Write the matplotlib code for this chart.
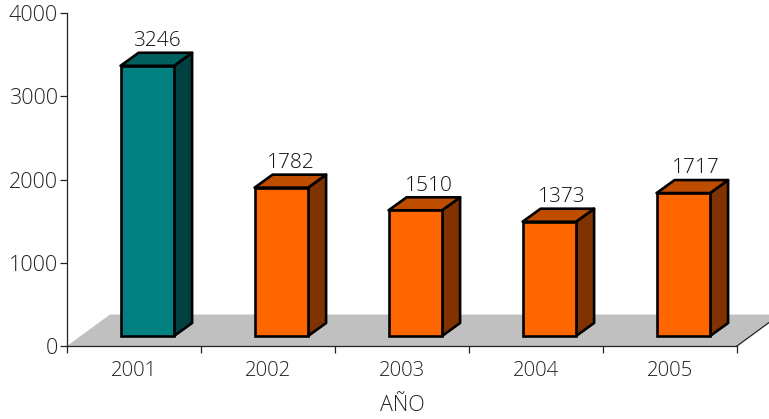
import matplotlib
matplotlib.use("Agg")
import matplotlib.pyplot as plt
from matplotlib.patches import Polygon, Rectangle

years = ["2001", "2002", "2003", "2004", "2005"]
values = [3246, 1782, 1510, 1373, 1717]
yticks = [0, 1000, 2000, 3000, 4000]
front = ["#008080", "#FF6600", "#FF6600", "#FF6600", "#FF6600"]
top = ["#006060", "#BF4D00", "#BF4D00", "#BF4D00", "#BF4D00"]
side = ["#004040", "#803300", "#803300", "#803300", "#803300"]
label_dx = [0.17, 0.17, 0.20, 0.19, 0.19]

plt.rcParams["font.family"] = "Open Sans"
plt.rcParams["font.weight"] = "light"
W, H = 769, 419
fig = plt.figure(figsize=(W / 100, H / 100), dpi=100, facecolor="white")
ax = fig.add_axes([67 / W, 1 - 346 / H, 670 / W, 333 / H])
ax.set_xlim(-0.5, 4.5)
ax.set_ylim(0, 4000)
ax.patch.set_visible(False)

# projection offsets in data units
DX = 18 / 134
DY = 13 / (333 / 4000)
BX0, BW = -0.1, 53.5 / 134
BASE = 10 / (333 / 4000)

# floor
fx = 43 / 134
fy = 31.5 / (333 / 4000)
ax.add_patch(Polygon([(-0.5, 0), (4.5, 0), (4.5 + fx, fy), (-0.5 + fx + 0.0, fy)],
                     closed=True, fc="#C0C0C0", ec="none", clip_on=False, zorder=1))
ax.plot([4.5, 4.5 + fx], [0, fy], color="#222222", lw=0.9, clip_on=False, zorder=1.5)

for i, v in enumerate(values):
    x0, x1 = i + BX0, i + BX0 + BW
    y0, y1 = BASE, BASE + v
    kw = dict(closed=True, ec="black", lw=1.9, joinstyle="round", clip_on=False, zorder=3)
    ax.add_patch(Polygon([(x1, y0), (x1 + DX, y0 + DY), (x1 + DX, y1 + DY), (x1, y1)], fc=side[i], **kw))
    ax.add_patch(Polygon([(x0, y1), (x1, y1), (x1 + DX, y1 + DY), (x0 + DX, y1 + DY)], fc=top[i], **kw))
    ax.add_patch(Rectangle((x0, y0), BW, v, fc=front[i], ec="black", lw=1.9, clip_on=False, zorder=4))
    ax.text(i + label_dx[i], y1 + DY + 140, str(v), ha="center", va="center",
            fontsize=15, color="#111111", zorder=5)

for s in ("top", "right"):
    ax.spines[s].set_visible(False)
for s in ("left", "bottom"):
    ax.spines[s].set_color("#222222")
    ax.spines[s].set_linewidth(0.9)
    ax.spines[s].set_zorder(2)

ax.set_yticks(yticks)
ax.tick_params(axis="y", length=5, width=0.9, color="#222222", labelsize=15.5,
               labelcolor="#222222", pad=1.5)
ax.set_xticks([-0.5, 0.5, 1.5, 2.5, 3.5, 4.5])
ax.set_xticklabels([])
ax.tick_params(axis="x", length=5, width=0.9, color="#222222")
for i, y in enumerate(years):
    ax.annotate(y, (i, 0), xytext=(0, -24.5 * 0.72), textcoords="offset points",
                ha="center", va="center", fontsize=14.7, color="#222222", annotation_clip=False)
ax.annotate("AÑO", (2, 0), xytext=(0, -59 * 0.72), textcoords="offset points",
            ha="center", va="center", fontsize=15.5, color="#222222", annotation_clip=False)

fig.savefig("out.png", dpi=100, facecolor="white")
